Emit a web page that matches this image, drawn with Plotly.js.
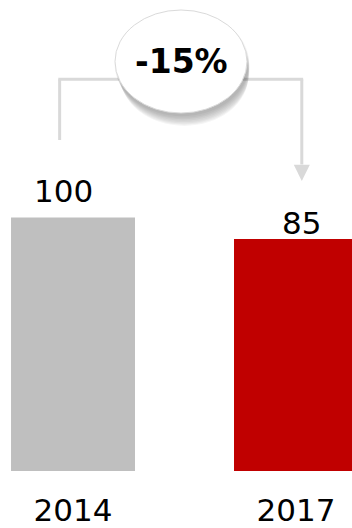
<!DOCTYPE html>
<html>
<head>
<meta charset="utf-8">
<script src="https://cdn.plot.ly/plotly-3.0.1.min.js"></script>
<style>
  html, body { margin: 0; padding: 0; background: #ffffff; }
  #chart { width: 352px; height: 528px; }
</style>
</head>
<body>
<div id="chart"></div>
<script>
// Index values, 2014 = 100
const years = ['2014', '2017'];
const values = [100, 85];
const barColors = ['#bfbfbf', '#c00000'];

// Bars rise from the bottom of the value axis
const FLOOR = -75;
const TOP = 250;

const change = Math.round((values[1] - values[0]) / values[0] * 100);
const changeText = (change > 0 ? '+' : '') + change + '%';

const trace = {
  type: 'bar',
  x: years,
  base: values.map(() => FLOOR),
  y: values.map(v => v - FLOOR),
  width: 0.556,
  marker: { color: barColors, line: { width: 0 } },
  hoverinfo: 'skip'
};

const lineStyle = { color: '#d9d9d9', width: 3 };
const xl = -0.06, xr = 1.026, yTop = 195.3;

const shapes = [
  // bracket from 2014 over to 2017
  { type: 'line', xref: 'x', yref: 'y', x0: xl, x1: xl, y0: 153.4, y1: yTop, line: lineStyle },
  { type: 'line', xref: 'x', yref: 'y', x0: xl - 0.006, x1: xr + 0.006, y0: yTop, y1: yTop, line: lineStyle },
  { type: 'line', xref: 'x', yref: 'y', x0: xr, x1: xr, y0: yTop, y1: 136.5, line: lineStyle },
  { type: 'path', xref: 'x', yref: 'y',
    path: `M ${xr - 0.036},136.3 L ${xr + 0.036},136.3 L ${xr},125.1 Z`,
    fillcolor: '#d9d9d9', line: { width: 0 } }
];

// soft drop shadow under the bubble, built from stacked faint ellipses
const ex0 = 0.1883, ex1 = 0.7803, ey0 = 172.0, ey1 = 243.1;
const shadowSteps = [
  { dx: 0.004, dy: -1.5, g: 0.5 },
  { dx: 0.006, dy: -2.8, g: 0.35 },
  { dx: 0.008, dy: -4.0, g: 0.2 },
  { dx: 0.010, dy: -5.2, g: 0.05 },
  { dx: 0.012, dy: -6.4, g: -0.1 },
  { dx: 0.013, dy: -7.6, g: -0.3 },
  { dx: 0.014, dy: -8.8, g: -0.5 },
  { dx: 0.015, dy: -10.0, g: -0.75 }
];
shadowSteps.forEach(s => {
  shapes.push({
    type: 'circle', xref: 'x', yref: 'y',
    x0: ex0 + s.dx - s.g * 0.012, x1: ex1 + s.dx + s.g * 0.012,
    y0: ey0 + s.dy - s.g * 1.5, y1: ey1 + s.dy + s.g * 1.5,
    fillcolor: '#000000', opacity: 0.038, line: { width: 0 }
  });
});
shapes.push({
  type: 'circle', xref: 'x', yref: 'y',
  x0: ex0, x1: ex1, y0: ey0, y1: ey1,
  fillcolor: '#ffffff', line: { color: '#dadada', width: 1 }
});

const valueFont = { family: 'DejaVu Sans, Verdana, sans-serif', size: 31, color: '#000000' };
const valueShifts = [{ x: -10, y: 26 }, { x: 5, y: 16 }];

// value labels above each bar (positioned by category index)
const annotations = years.map((yr, i) => ({
  x: i, y: values[i], xref: 'x', yref: 'y',
  text: String(values[i]),
  showarrow: false,
  xanchor: 'center', yanchor: 'middle',
  xshift: valueShifts[i].x, yshift: valueShifts[i].y,
  font: valueFont
}));
annotations.push({
  x: (ex0 + ex1) / 2, y: (ey0 + ey1) / 2, xref: 'x', yref: 'y',
  text: '<b>' + changeText + '</b>',
  showarrow: false, xanchor: 'center', yanchor: 'middle',
  font: { family: 'DejaVu Sans, Verdana, sans-serif', size: 33, color: '#000000' }
});

const layout = {
  width: 352, height: 528,
  margin: { l: 0, r: 0, t: 0, b: 57, pad: 0 },
  paper_bgcolor: '#ffffff', plot_bgcolor: '#ffffff',
  showlegend: false,
  xaxis: {
    type: 'category',
    range: [-0.3274, 1.2511],
    showgrid: false, zeroline: false, showline: false,
    ticks: '', ticklabelstandoff: 18,
    tickfont: valueFont,
    fixedrange: true
  },
  yaxis: {
    range: [FLOOR, TOP],
    visible: false, showgrid: false, zeroline: false,
    fixedrange: true
  },
  shapes: shapes,
  annotations: annotations
};

Plotly.newPlot('chart', [trace], layout, { displayModeBar: false, staticPlot: true });
</script>
</body>
</html>
